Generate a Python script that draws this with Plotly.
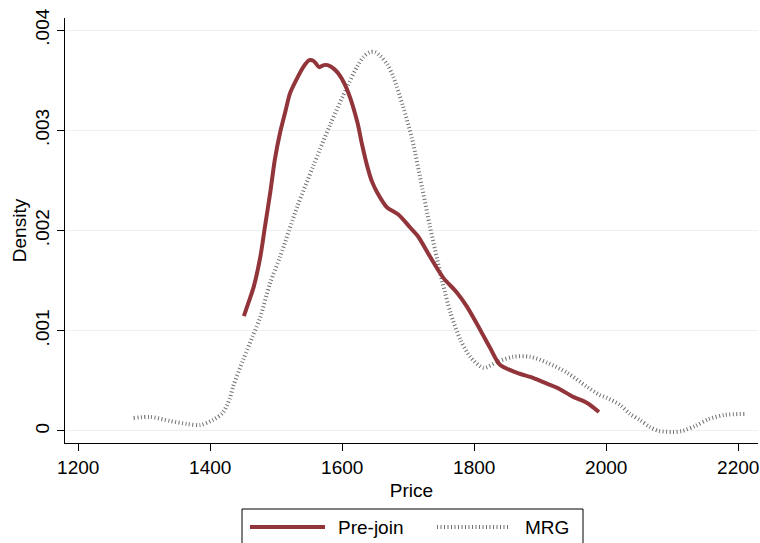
import plotly.graph_objects as go

# Kernel density estimates of price, by group
pre_join_price = [1451, 1458, 1466, 1476, 1483, 1491, 1498, 1506, 1514, 1521, 1531, 1541,
                  1550, 1557, 1565, 1572, 1578, 1588, 1597, 1609, 1623, 1630, 1638, 1645,
                  1653, 1668, 1685, 1703, 1715, 1733, 1753, 1774, 1789, 1809, 1824, 1839,
                  1865, 1889, 1911, 1926, 1950, 1971, 1989]
pre_join_density = [0.001145, 0.00128, 0.00144, 0.00174, 0.00204, 0.00238, 0.00271, 0.00298,
                    0.00319, 0.00337, 0.00351, 0.00363, 0.00370, 0.00369, 0.00363, 0.00365,
                    0.00365, 0.00361, 0.00354, 0.00338, 0.00308, 0.00286, 0.00264, 0.00249,
                    0.00238, 0.00223, 0.00216, 0.00203, 0.00194, 0.00174, 0.00153, 0.00138,
                    0.00124, 0.00101, 0.00083, 0.00066, 0.00058, 0.00053, 0.00047, 0.00043,
                    0.00034, 0.00028, 0.00019]

mrg_price = [1284, 1309, 1339, 1365, 1385, 1404, 1419, 1430, 1435, 1450, 1464, 1476, 1491,
             1506, 1532, 1556, 1582, 1608, 1623, 1632, 1642, 1650, 1658, 1668, 1677, 1692,
             1706, 1721, 1733, 1744, 1752, 1764, 1779, 1794, 1814, 1835, 1859, 1885, 1911,
             1941, 1971, 1990, 2001, 2021, 2036, 2051, 2066, 2080, 2100, 2115, 2135, 2156,
             2180, 2210]
mrg_density = [0.00013, 0.00014, 0.00010, 0.00007, 0.00006, 0.00011, 0.00018, 0.00033,
               0.00045, 0.00071, 0.00094, 0.00114, 0.00148, 0.00174, 0.00224, 0.00264,
               0.00306, 0.00344, 0.00364, 0.00373, 0.00378, 0.00378, 0.00374, 0.00366,
               0.00354, 0.00324, 0.00291, 0.00243, 0.00204, 0.00171, 0.00148, 0.00118,
               0.00091, 0.00074, 0.00063, 0.00069, 0.00074, 0.00074, 0.00068, 0.00058,
               0.00044, 0.00036, 0.00033, 0.00026, 0.00017, 0.00011, 0.00004, 0.00000,
               -0.00001, 0.00000, 0.00005, 0.00012, 0.00016, 0.00017]

x_ticks = [1200, 1400, 1600, 1800, 2000, 2200]
y_ticks = [0, 0.001, 0.002, 0.003, 0.004]
y_tick_labels = ["0", ".001", ".002", ".003", ".004"]

RED = "#92353b"
GREY = "#707070"
FONT = "Liberation Sans, Arial, Helvetica, sans-serif"
FS = 19

fig = go.Figure()
fig.add_trace(go.Scatter(x=mrg_price, y=mrg_density, mode="lines", name="MRG",
                         line=dict(color=GREY, width=4, dash="1px,2.5px",
                                   shape="spline", smoothing=0.8)))
fig.add_trace(go.Scatter(x=pre_join_price, y=pre_join_density, mode="lines", name="Pre-join",
                         line=dict(color=RED, width=4, shape="spline", smoothing=0.8)))

fig.update_layout(
    width=760, height=543,
    margin=dict(l=65, r=2, t=18, b=100),
    paper_bgcolor="white", plot_bgcolor="white",
    showlegend=False,
    font=dict(family=FONT, size=FS, color="black"),
    xaxis=dict(range=[1180, 2230], tickvals=x_ticks, showgrid=False, zeroline=False,
               showline=True, linecolor="black", linewidth=1,
               ticks="outside", ticklen=7, tickcolor="black",
               tickfont=dict(size=FS),
               title=dict(text="Price", standoff=6, font=dict(size=FS))),
    yaxis=dict(range=[-0.00012, 0.00412], tickvals=y_ticks, ticktext=y_tick_labels,
               tickangle=-90, showgrid=True, gridcolor="#e9f1f2", gridwidth=1,
               zeroline=False, showline=True, linecolor="black", linewidth=1,
               ticks="outside", ticklen=7, tickcolor="black",
               tickfont=dict(size=FS),
               title=dict(text="Density", standoff=0, font=dict(size=FS))),
)

# Legend box below the plot
def px_x(p):
    return (p - 65) / 693

def px_y(p):
    return (443 - p) / 425

fig.add_shape(type="rect", xref="paper", yref="paper",
              x0=px_x(242), x1=px_x(583), y0=px_y(509), y1=px_y(570),
              line=dict(color="black", width=1), fillcolor="white", layer="above")
fig.add_shape(type="line", xref="paper", yref="paper",
              x0=px_x(250), x1=px_x(325), y0=px_y(527), y1=px_y(527),
              line=dict(color=RED, width=4))
fig.add_shape(type="line", xref="paper", yref="paper",
              x0=px_x(437), x1=px_x(508), y0=px_y(527), y1=px_y(527),
              line=dict(color=GREY, width=4, dash="1px,2.5px"))
fig.add_annotation(text="Pre-join", xref="paper", yref="paper", x=px_x(336), y=px_y(527),
                   xanchor="left", yanchor="middle", showarrow=False)
fig.add_annotation(text="MRG", xref="paper", yref="paper", x=px_x(523), y=px_y(527),
                   xanchor="left", yanchor="middle", showarrow=False)

fig.write_html("out.html")
